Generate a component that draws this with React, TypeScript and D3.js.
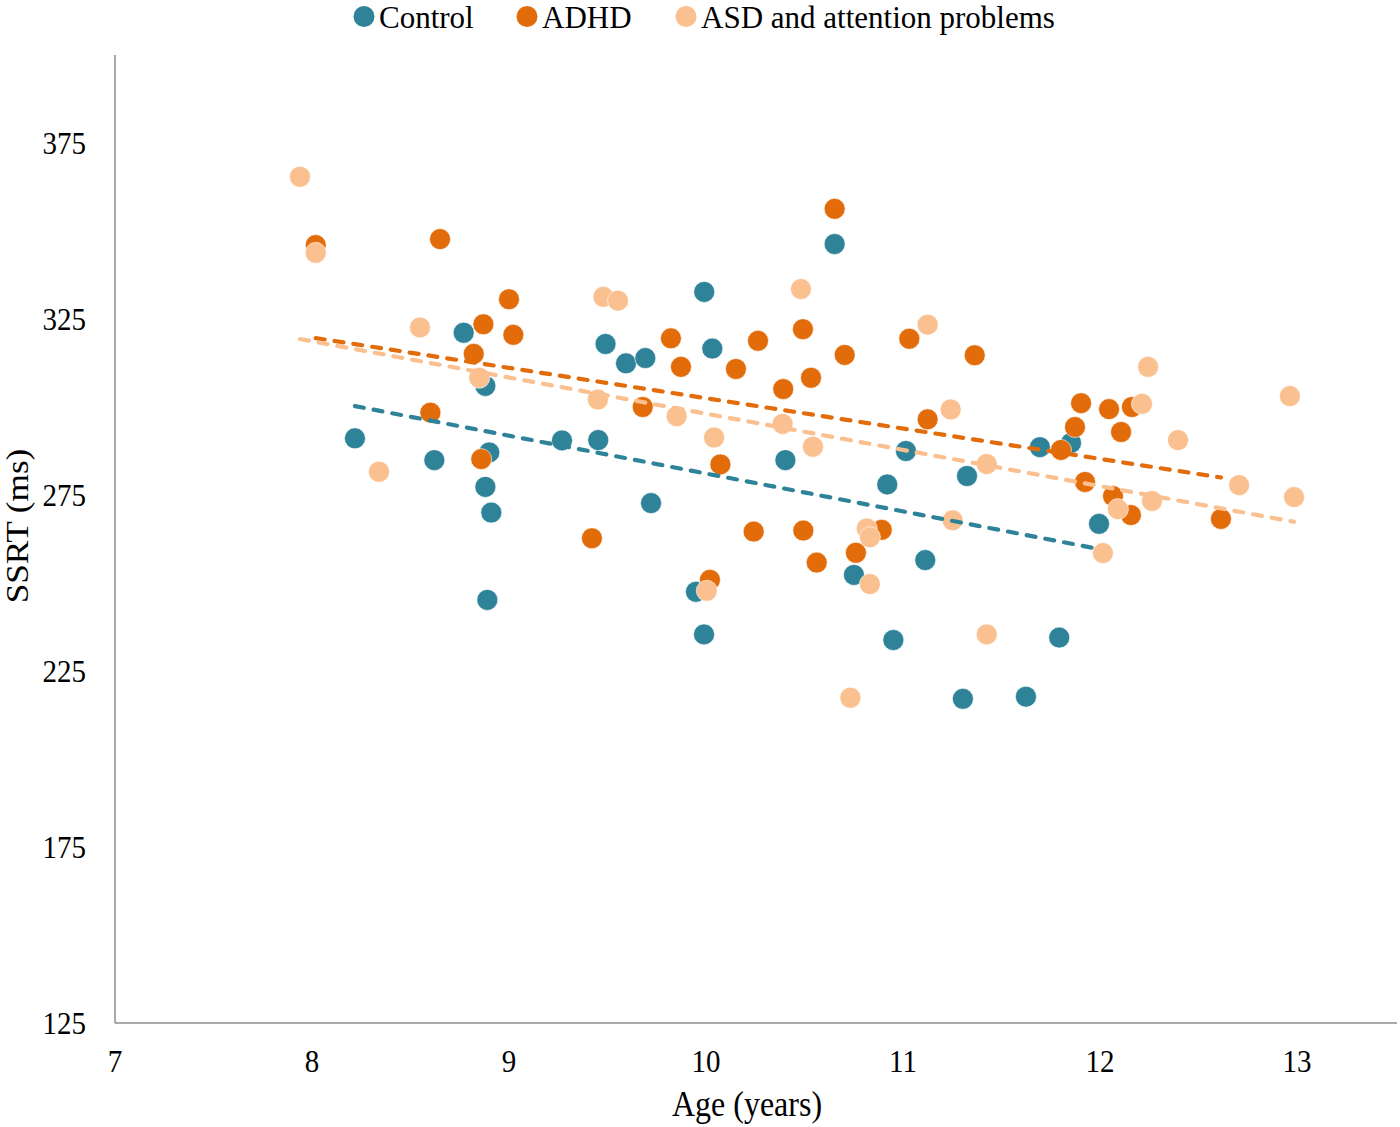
import React from "react";
import * as d3 from "d3";

// ---------- data ----------
const seriesNames = ["Control", "ADHD", "ASD and attention problems"];
const seriesColors = ["#2E8399", "#E36C0A", "#FAC090"];

const controlAge = [8.218, 8.621, 8.770, 8.880, 8.900, 8.880, 8.910, 8.890, 9.269, 9.453, 9.490, 9.594, 9.692, 9.721, 9.991, 10.032, 9.949, 9.990, 10.403, 10.653, 10.751, 10.920, 11.015, 10.951, 11.113, 11.304, 11.325, 11.624, 11.695, 11.793, 11.853, 11.995];
const controlSSRT = [291.1, 284.9, 321.1, 306.0, 287.1, 277.3, 270.0, 245.2, 290.5, 290.6, 317.9, 312.4, 313.9, 272.7, 332.7, 316.6, 247.5, 235.4, 284.9, 346.3, 252.3, 278.0, 287.5, 233.8, 256.5, 217.1, 280.4, 217.7, 288.6, 234.5, 289.8, 266.8];

const adhdAge = [8.019, 8.650, 8.601, 8.821, 8.870, 8.859, 9.000, 9.022, 9.421, 9.679, 9.822, 9.873, 10.020, 10.073, 10.152, 10.264, 10.242, 10.392, 10.492, 10.494, 10.533, 10.562, 10.653, 10.704, 10.761, 10.892, 11.032, 11.125, 11.364, 11.802, 11.873, 11.904, 11.924, 12.046, 12.066, 12.107, 12.162, 12.157, 12.614];
const adhdSSRT = [346.0, 347.7, 298.4, 315.1, 323.5, 285.2, 330.6, 320.5, 262.7, 300.0, 319.5, 311.4, 250.9, 283.7, 310.8, 318.8, 264.6, 305.1, 322.1, 264.9, 308.3, 255.8, 356.3, 314.8, 258.6, 265.1, 319.4, 296.5, 314.7, 287.8, 294.3, 301.1, 278.7, 299.4, 274.7, 292.9, 300.0, 269.3, 268.2];

const asdAge = [7.939, 8.019, 8.340, 8.548, 8.849, 9.451, 9.479, 9.553, 9.851, 10.004, 10.041, 10.389, 10.482, 10.543, 10.733, 10.816, 10.832, 10.832, 11.125, 11.242, 11.252, 11.425, 11.425, 12.015, 12.091, 12.213, 12.244, 12.264, 12.396, 12.706, 12.964, 12.985];
const asdSSRT = [365.4, 343.8, 281.6, 322.6, 308.3, 302.1, 331.3, 330.2, 297.4, 247.8, 291.3, 295.2, 333.5, 288.7, 217.4, 265.5, 263.0, 249.7, 323.4, 299.3, 267.8, 283.8, 235.4, 258.5, 271.0, 300.9, 311.4, 273.3, 290.6, 277.8, 303.1, 274.4];

// linear trend lines (slope, intercept)
const trendSlopes = [-10.75, -8.62, -10.29];
const trendIntercepts = [388.6, 388.7, 401.0];

const xTicks = [7, 8, 9, 10, 11, 12, 13];
const yTicks = [125, 175, 225, 275, 325, 375];

const xLabel = "Age (years)";
const yLabel = "SSRT (ms)";

// ---------- chart ----------
const W = 1400;
const H = 1127;
const FONT = "'Liberation Serif', 'Times New Roman', serif";

export default function App() {
  const x = d3.scaleLinear().domain([7, 13.5]).range([115, 1395.5]);
  const y = d3.scaleLinear().domain([125, 400]).range([1023, 55]);

  const series = [
    { ages: controlAge, vals: controlSSRT },
    { ages: adhdAge, vals: adhdSSRT },
    { ages: asdAge, vals: asdSSRT },
  ];

  const line = d3
    .line<[number, number]>()
    .x((d) => x(d[0]))
    .y((d) => y(d[1]));

  const legendX = [364, 527, 686];

  return (
    <svg
      width={W}
      height={H}
      style={{ position: "absolute", left: 0, top: 0, background: "#fff" }}
      fontFamily={FONT}
    >
      <rect width={W} height={H} fill="#fff" />

      {/* axes */}
      <line x1={x(7)} x2={x(7)} y1={y(400)} y2={y(125)} stroke="#8c8c8c" strokeWidth={1.5} />
      <line x1={x(7)} x2={1397} y1={y(125)} y2={y(125)} stroke="#8c8c8c" strokeWidth={1.5} />

      {/* y tick labels */}
      {yTicks.map((t) => (
        <text
          key={"y" + t}
          transform={`translate(86,${y(t)}) scale(1,1.11)`}
          textAnchor="end"
          dominantBaseline="central"
          fontSize={29}
          fill="#000"
        >
          {t}
        </text>
      ))}

      {/* x tick labels */}
      {xTicks.map((t) => (
        <text
          key={"x" + t}
          transform={`translate(${x(t)},1061) scale(1,1.11)`}
          textAnchor="middle"
          dominantBaseline="central"
          fontSize={29}
          fill="#000"
        >
          {t}
        </text>
      ))}

      {/* axis titles */}
      <text
        transform={`translate(747,1116) scale(1,1.1)`}
        textAnchor="middle"
        fontSize={32}
        fill="#000"
      >
        {xLabel}
      </text>
      <text
        transform={`translate(28,526) scale(1,1.1) rotate(-90)`}
        textAnchor="middle"
        fontSize={32}
        fill="#000"
      >
        {yLabel}
      </text>

      {/* points */}
      {series.map((s, i) => (
        <g key={"s" + i}>
          {s.ages.map((a, j) => (
            <circle
              key={j}
              cx={x(a)}
              cy={y(s.vals[j])}
              r={10.5}
              fill={seriesColors[i]}
              stroke="#ffffff"
              strokeWidth={0.6}
            />
          ))}
        </g>
      ))}

      {/* trend lines */}
      {series.map((s, i) => {
        const [mn, mx] = d3.extent(s.ages) as [number, number];
        const pts: [number, number][] = [
          [mn, trendIntercepts[i] + trendSlopes[i] * mn],
          [mx, trendIntercepts[i] + trendSlopes[i] * mx],
        ];
        return (
          <path
            key={"t" + i}
            d={line(pts) || ""}
            fill="none"
            stroke={seriesColors[i]}
            strokeWidth={4.2}
            strokeDasharray="9 10"
            strokeLinecap="round"
          />
        );
      })}

      {/* legend */}
      {seriesNames.map((n, i) => (
        <g key={"l" + i}>
          <circle cx={legendX[i]} cy={16.5} r={10.5} fill={seriesColors[i]} />
          <text
            x={legendX[i] + 15}
            y={28}
            fontSize={31}
            fill="#000"
          >
            {n}
          </text>
        </g>
      ))}
    </svg>
  );
}
